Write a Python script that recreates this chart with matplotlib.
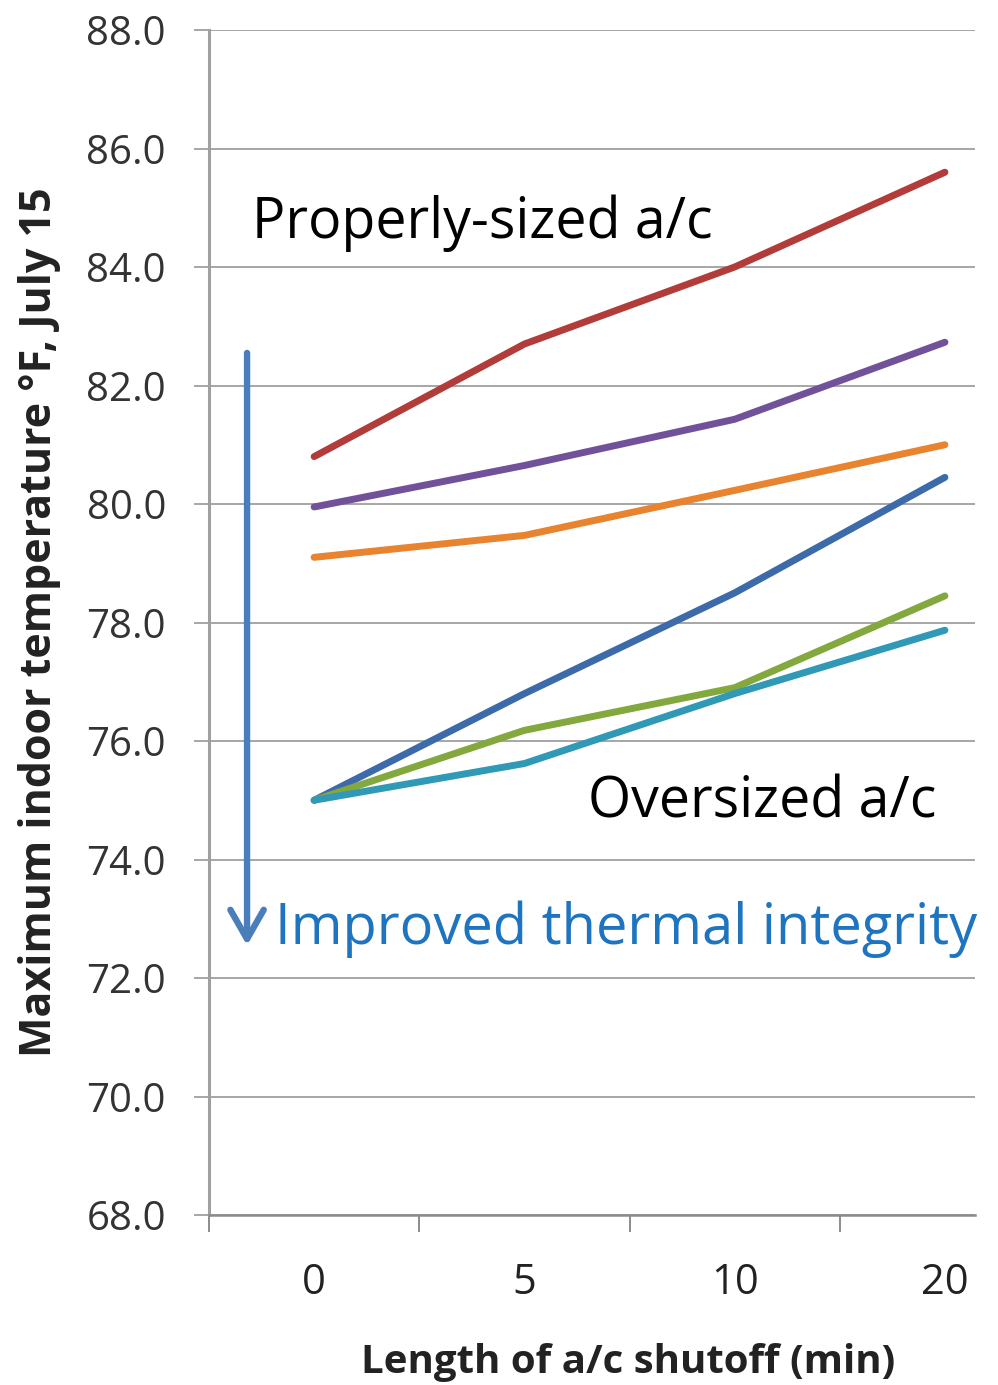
import matplotlib
matplotlib.use("Agg")
import matplotlib.pyplot as plt
import numpy as np

# Shutoff lengths (minutes) shown as categories
shutoff_labels = ["0", "5", "10", "20"]

# Maximum indoor temperature (°F) on July 15 for each house / a/c case
red_series = [80.8, 82.7, 84.0, 85.6]
purple_series = [79.95, 80.65, 81.43, 82.73]
orange_series = [79.1, 79.47, 80.23, 81.0]
blue_series = [75.0, 76.8, 78.5, 80.45]
green_series = [75.0, 76.18, 76.9, 78.45]
teal_series = [75.0, 75.62, 76.8, 77.87]

series = [
    (red_series, "#B23C39"),
    (purple_series, "#71519A"),
    (orange_series, "#E8832F"),
    (blue_series, "#3D6BAA"),
    (green_series, "#82A83E"),
    (teal_series, "#3099B6"),
]

yticks = np.arange(68.0, 88.01, 2.0)

FONT = ["Open Sans", "DejaVu Sans"]

fig = plt.figure(figsize=(9.98, 13.85), dpi=100)
ax = fig.add_axes([209 / 998, 170 / 1385, (975 - 209) / 998, (1215 - 30) / 1385])

x = np.arange(len(shutoff_labels))
for vals, color in series:
    ax.plot(x, vals, color=color, lw=5.0, solid_capstyle="round",
            solid_joinstyle="round", zorder=3)

ax.set_ylim(68.0, 88.0)
ax.set_xlim(-0.5, 3.143)
ax.set_yticks(yticks)
ax.set_yticklabels([f"{v:.1f}" for v in yticks], fontsize=29,
                   family=FONT, color="#333333")
ax.yaxis.grid(True, color="#A6A6A6", lw=1.4)
ax.set_axisbelow(True)

# category tick marks sit between the categories, labels at the centres
ax.set_xticks(np.arange(-0.5, 3.0, 1.0))
ax.set_xticklabels([])
ax.set_xticks(x, minor=True)
ax.set_xticklabels(shutoff_labels, minor=True, fontsize=30,
                   family=FONT, color="#222222")
ax.tick_params(axis="x", which="major", length=12, width=1.4, color="#8C8C8C")
ax.tick_params(axis="x", which="minor", length=0, pad=34)
ax.tick_params(axis="y", length=11, width=1.4, color="#A6A6A6", pad=20)

for side in ("top", "right"):
    ax.spines[side].set_visible(False)
ax.spines["left"].set_color("#A0A0A0")
ax.spines["left"].set_linewidth(2.2)
ax.spines["bottom"].set_color("#8C8C8C")
ax.spines["bottom"].set_linewidth(1.8)

# axis titles
fig.text(40 / 998, 1 - 622 / 1385, "Maximum indoor temperature °F, July 15",
         rotation=90, fontsize=31, fontweight="bold", family=FONT,
         color="#222222", ha="center", va="center")
fig.text(628 / 998, 1 - 1362 / 1385, "Length of a/c shutoff (min)",
         fontsize=29, fontweight="bold", family=FONT, color="#222222",
         ha="center", va="center")

# annotations
ax.text(0.056, 0.837, "Properly-sized a/c", transform=ax.transAxes,
        fontsize=40, family=FONT, color="black", ha="left", va="center")
ax.text(0.950, 0.348, "Oversized a/c", transform=ax.transAxes,
        fontsize=40, family=FONT, color="black", ha="right", va="center")
ax.text(1.003, 0.241, "Improved thermal integrity", transform=ax.transAxes,
        fontsize=40.3, family=FONT, color="#1F74C0",
        ha="right", va="center", clip_on=False)

# downward arrow indicating better envelope
arrow_x = -0.319
ax.annotate("", xy=(arrow_x, 72.55), xytext=(arrow_x, 82.55),
            arrowprops=dict(arrowstyle="->,head_length=2.1,head_width=1.2",
                            mutation_scale=10, color="#4A7EBB", lw=4.6,
                            shrinkA=0, shrinkB=0, capstyle="round",
                            joinstyle="round"),
            zorder=4)

fig.savefig("out.png", dpi=100)
